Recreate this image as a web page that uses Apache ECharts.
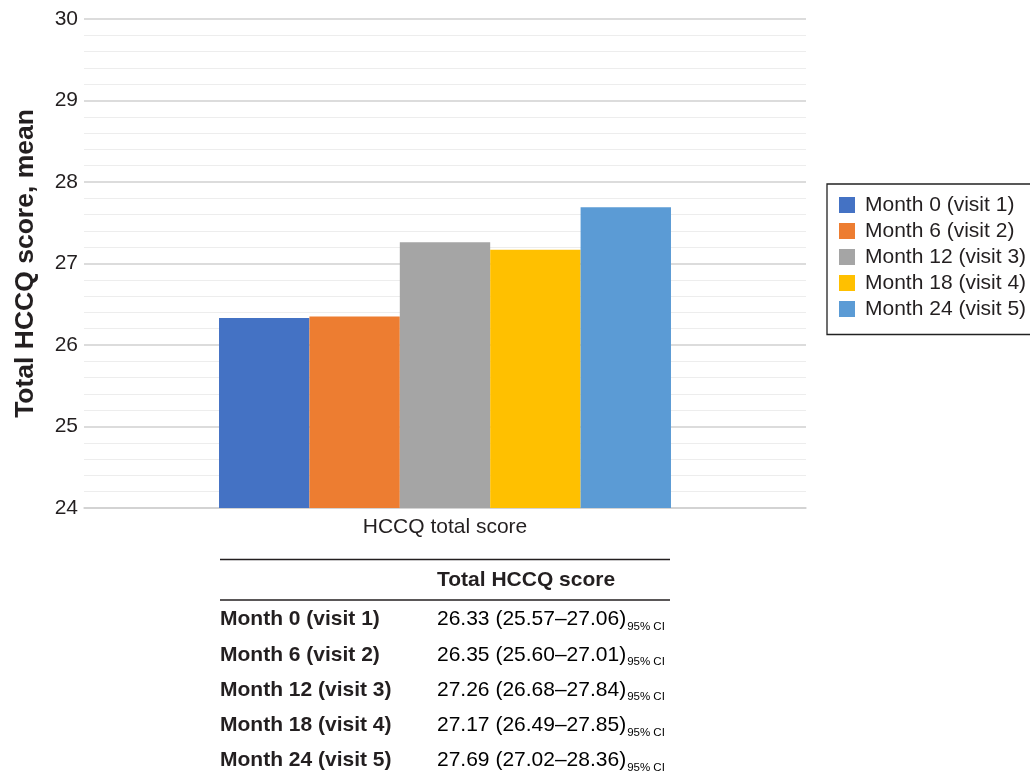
<!DOCTYPE html>
<html lang="en">
<head>
<meta charset="UTF-8">
<title>Total HCCQ score</title>
<script src="https://cdn.jsdelivr.net/npm/echarts@6.0.0/dist/echarts.min.js"></script>
<style>
  html, body { margin: 0; padding: 0; background: #fff; }
  #chart { width: 1030px; height: 775px; }
</style>
</head>
<body>
<div id="chart"></div>
<script>
const category = ['HCCQ total score'];
const visits = ['Month 0 (visit 1)', 'Month 6 (visit 2)', 'Month 12 (visit 3)', 'Month 18 (visit 4)', 'Month 24 (visit 5)'];
const means = [26.33, 26.35, 27.26, 27.17, 27.69];
const ciLow = ['25.57', '25.60', '26.68', '26.49', '27.02'];
const ciHigh = ['27.06', '27.01', '27.84', '27.85', '28.36'];
const colors = ['#4472C4', '#ED7D31', '#A5A5A5', '#FFC000', '#5B9BD5'];

const font = 'Liberation Sans, Arial, sans-serif';
const ink = '#231f20';

const chart = echarts.init(document.getElementById('chart'));

// table under the chart
const tableLeft = 220, tableRight = 670, valueX = 437;
const tableGraphics = [
  { type: 'line', shape: { x1: tableLeft, y1: 559.5, x2: tableRight, y2: 559.5 }, style: { stroke: ink, lineWidth: 1.3 } },
  { type: 'text', x: valueX, y: 580, style: { text: 'Total HCCQ score', font: 'bold 21px ' + font, fill: ink, textVerticalAlign: 'middle' } },
  { type: 'line', shape: { x1: tableLeft, y1: 600, x2: tableRight, y2: 600 }, style: { stroke: ink, lineWidth: 1.3 } }
];
visits.forEach((v, i) => {
  const y = 619.5 + i * 35.3;
  tableGraphics.push({
    type: 'text', x: tableLeft, y: y,
    style: { text: v, font: 'bold 21px ' + font, fill: ink, textVerticalAlign: 'middle' }
  });
  tableGraphics.push({
    type: 'text', x: valueX, y: y - 13,
    style: {
      text: '{v|' + means[i].toFixed(2) + ' (' + ciLow[i] + '–' + ciHigh[i] + ')}{s|95% CI}',
      rich: {
        v: { fontSize: 21, fontFamily: font, color: ink, lineHeight: 26, verticalAlign: 'middle' },
        s: { fontSize: 11.5, fontFamily: font, color: ink, lineHeight: 12, verticalAlign: 'bottom', padding: [0, 0, 0, 1] }
      }
    }
  });
});

const option = {
  animation: false,
  color: colors,
  textStyle: { fontFamily: font },
  grid: { left: 84, right: 224, top: 19, bottom: 267 },
  legend: {
    orient: 'vertical',
    left: 827,
    top: 184,
    padding: [10.5, 10, 15, 12],
    borderColor: '#222',
    borderWidth: 1.3,
    borderRadius: 0,
    icon: 'rect',
    itemWidth: 16,
    itemHeight: 16,
    itemGap: 5,
    textStyle: { fontSize: 21, color: ink, fontFamily: font, padding: [0, 0, 0, 5] },
    data: visits
  },
  xAxis: {
    type: 'category',
    data: category,
    axisLine: { lineStyle: { color: '#d0d0d0', width: 1.5 } },
    axisTick: { show: false },
    axisLabel: { fontSize: 21, color: ink, margin: 9 }
  },
  yAxis: {
    type: 'value',
    min: 24,
    max: 30,
    interval: 1,
    name: 'Total HCCQ score, mean',
    nameLocation: 'middle',
    nameGap: 45,
    nameTextStyle: { fontSize: 26.5, fontWeight: 'bold', color: ink, fontFamily: font },
    axisLine: { show: false },
    axisTick: { show: false },
    axisLabel: { fontSize: 21, color: ink, margin: 6 },
    splitLine: { lineStyle: { color: '#d0d0d0', width: 1.5 } },
    minorTick: { show: false, splitNumber: 5 },
    minorSplitLine: { show: true, lineStyle: { color: '#ededed', width: 1.2 } }
  },
  series: visits.map((name, i) => ({
    name: name,
    type: 'bar',
    barGap: '0%',
    barCategoryGap: '37.4%',
    data: [means[i]]
  })),
  graphic: tableGraphics
};

chart.setOption(option);
</script>
</body>
</html>
